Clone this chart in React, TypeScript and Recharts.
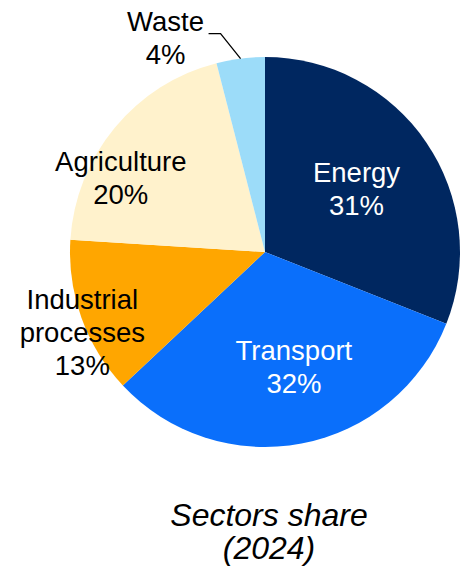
import { PieChart, Pie, Cell } from 'recharts'

const sectors = ['Energy', 'Transport', 'Industrial processes', 'Agriculture', 'Waste']
const shares = [31, 32, 13, 20, 4]
const colors = ['#002760', '#0A6FFB', '#FFA600', '#FFF2CC', '#9CDCF9']
const labelLines = [['Energy'], ['Transport'], ['Industrial', 'processes'], ['Agriculture'], ['Waste']]

const data = sectors.map((name, i) => ({ name, value: shares[i] }))

// label placement: radius ratio + small nudge
const labelSpec = [
  { r: 0.58, dx: -2, dy: 0, fill: '#fff' },
  { r: 0.6, dx: 7, dy: 0, fill: '#fff' },
  { r: 1.05, dx: 10, dy: 11, fill: '#000' },
  { r: 0.78, dx: -27, dy: 22, fill: '#000' },
  { r: 1.3, dx: 0, dy: 0, fill: '#000' },
]

const RADIAN = Math.PI / 180
const FONT = 'Liberation Sans, Arial, sans-serif'
const LINE = 33
const FS = 27.5

function renderLabel(props: any) {
  const { cx, cy, midAngle, outerRadius, index, value } = props
  const spec = labelSpec[index]
  const lines = [...labelLines[index], `${value}%`]
  if (sectors[index] === 'Waste') {
    const ex = cx + outerRadius * Math.cos(-midAngle * RADIAN)
    const ey = cy + outerRadius * Math.sin(-midAngle * RADIAN)
    const kx = ex - 20
    const ky = ey - 25
    const tx = kx - 12
    return (
      <g>
        <polyline points={`${ex},${ey} ${kx},${ky} ${tx},${ky}`} fill="none" stroke="#000" strokeWidth={1.3} />
        <text x={tx - 43} y={ky - 3} textAnchor="middle" fontFamily={FONT} fontSize={FS} fill="#000">
          {lines.map((l, i) => (
            <tspan key={i} x={tx - 43} dy={i === 0 ? 0 : LINE}>{l}</tspan>
          ))}
        </text>
      </g>
    )
  }
  const r = outerRadius * spec.r
  const x = cx + r * Math.cos(-midAngle * RADIAN) + spec.dx
  const y = cy + r * Math.sin(-midAngle * RADIAN) + spec.dy
  const top = y - ((lines.length - 1) * LINE) / 2 + 10
  return (
    <text x={x} y={top} textAnchor="middle" fontFamily={FONT} fontSize={FS} fill={spec.fill}>
      {lines.map((l, i) => (
        <tspan key={i} x={x} dy={i === 0 ? 0 : LINE}>{l}</tspan>
      ))}
    </text>
  )
}

export default function App() {
  return (
    <div style={{ position: 'relative', width: 461, height: 580, background: '#fff' }}>
      <style>{`body{margin:0}`}</style>
      <PieChart width={461} height={580}>
        <Pie
          data={data}
          dataKey="value"
          nameKey="name"
          cx={260}
          cy={247}
          outerRadius={195}
          startAngle={90}
          endAngle={-270}
          stroke="none"
          labelLine={false}
          label={renderLabel}
          isAnimationActive={false}
        >
          {data.map((d, i) => (
            <Cell key={d.name} fill={colors[i]} />
          ))}
        </Pie>
      </PieChart>
      <div
        style={{
          position: 'absolute',
          left: 69,
          width: 400,
          top: 499,
          textAlign: 'center',
          fontFamily: FONT,
          fontStyle: 'italic',
          fontSize: 32,
          lineHeight: '33px',
          color: '#000',
        }}
      >
        Sectors share
        <br />
        (2024)
      </div>
    </div>
  )
}
